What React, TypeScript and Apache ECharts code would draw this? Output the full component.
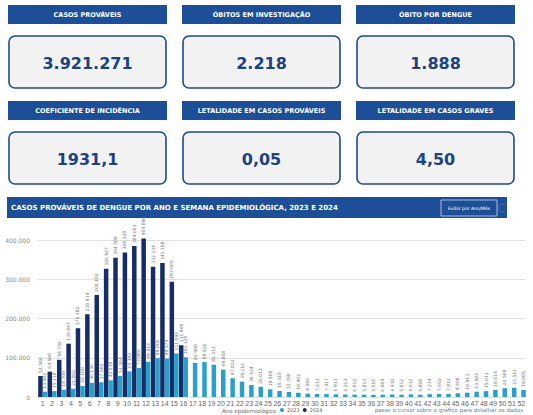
import React, { useEffect, useRef } from "react";
import * as echarts from "echarts";

const weeks = Array.from({ length: 52 }, (_, i) => String(i + 1));

const cases2024 = [
  53506, 64500, 94756, 135867, 175182, 210914, 260102, 326927, 354508, 368329,
  384603, 404098, 332134, 341108, 293605, 131960,
];

const cases2023 = [
  13582, 15118, 18700, 21002, 28100, 36136, 37500, 42518, 53504, 65142,
  73986, 89816, 99006, 98174, 111092, 101120, 86900, 88826, 82112, 69808,
  47812, 39116, 30534, 26012, 19508, 15310, 12700, 10902, 8506, 7612,
  7417, 6911, 6213, 6012, 5813, 5510, 6004, 6410, 5812, 6612,
  5808, 7214, 7602, 7812, 9508, 10913, 13502, 15011, 18014, 22508,
  23512, 18005,
];

const kpiTitles = [
  "CASOS PROVÁVEIS",
  "ÓBITOS EM INVESTIGAÇÃO",
  "ÓBITO POR DENGUE",
  "COEFICIENTE DE INCIDÊNCIA",
  "LETALIDADE EM CASOS PROVÁVEIS",
  "LETALIDADE EM CASOS GRAVES",
];
const kpiValues = ["3.921.271", "2.218", "1.888", "1931,1", "0,05", "4,50"];

const chartTitle =
  "CASOS PROVÁVEIS DE DENGUE POR ANO E SEMANA EPIDEMIOLÓGICA, 2023 E 2024";

const fmt = (v: number) =>
  Math.round(v)
    .toString()
    .replace(/\B(?=(\d{3})+(?!\d))/g, ".");

const HEADER = "#1d4f98";
const VALUE = "#1c4282";
const DARK = "#172d6a";
const LIGHT = "#2aa0c8";

export default function App() {
  const ref = useRef<HTMLDivElement>(null);
  useEffect(() => {
    document.body.style.margin = "0";
    const chart = echarts.init(ref.current!, undefined, { renderer: "svg" });

    const colX = [8, 182, 356];
    const colW = 159;
    const rowHeadY = [5, 101];
    const rowBoxY = [36, 132];
    const graphics: any[] = [];
    kpiTitles.forEach((t, i) => {
      const c = i % 3;
      const r = Math.floor(i / 3);
      graphics.push({
        type: "rect",
        shape: { x: colX[c], y: rowHeadY[r], width: colW, height: 19 },
        style: { fill: HEADER },
      });
      graphics.push({
        type: "text",
        x: colX[c] + colW / 2,
        y: rowHeadY[r] + 9.5,
        style: {
          text: t,
          fill: "#ffffff",
          font: "bold 6.5px 'DejaVu Sans'",
          align: "center",
          verticalAlign: "middle",
        },
      });
      graphics.push({
        type: "rect",
        shape: { x: colX[c] + 1, y: rowBoxY[r], width: colW - 2, height: 52, r: 6 },
        style: { fill: "#f2f2f3", stroke: "#1f4a8a", lineWidth: 1.6 },
      });
      graphics.push({
        type: "text",
        x: colX[c] + colW / 2,
        y: rowBoxY[r] + 27,
        style: {
          text: kpiValues[i],
          fill: VALUE,
          font: "bold 16px 'DejaVu Sans'",
          align: "center",
          verticalAlign: "middle",
        },
      });
    });

    graphics.push({
      type: "rect",
      shape: { x: 7, y: 197, width: 500, height: 21 },
      style: { fill: HEADER },
    });
    graphics.push({
      type: "text",
      x: 11,
      y: 207.5,
      style: {
        text: chartTitle,
        fill: "#ffffff",
        font: "bold 7px 'DejaVu Sans'",
        align: "left",
        verticalAlign: "middle",
      },
    });
    graphics.push({
      type: "rect",
      shape: { x: 441, y: 200, width: 56, height: 16 },
      style: { fill: HEADER, stroke: "#c9d6ea", lineWidth: 0.8 },
    });
    graphics.push({
      type: "text",
      x: 469,
      y: 208,
      style: {
        text: "Exibir por Ano/Mês",
        fill: "#ffffff",
        font: "4.5px 'DejaVu Sans'",
        align: "center",
        verticalAlign: "middle",
      },
    });
    graphics.push({
      type: "arc",
      shape: { cx: 502, cy: 208, r: 4, startAngle: 0.6, endAngle: 5.6 },
      style: { stroke: "#4f78b4", lineWidth: 0.8, fill: "none" },
    });
    graphics.push({
      type: "text",
      x: 222,
      y: 410.5,
      style: {
        text: "Ano epidemiológico",
        fill: "#666666",
        font: "5.5px 'DejaVu Sans'",
        align: "left",
        verticalAlign: "middle",
      },
    });
    graphics.push({
      type: "text",
      x: 523,
      y: 410,
      style: {
        text: "passe o cursor sobre o gráfico para detalhar os dados",
        fill: "#5b7fb3",
        font: "5.5px 'DejaVu Sans'",
        align: "right",
        verticalAlign: "middle",
      },
    });

    const label = {
      show: true,
      position: "top",
      rotate: 90,
      align: "left",
      verticalAlign: "middle",
      distance: 3,
      fontSize: 4.5,
      color: "#7a7a7a",
      fontFamily: "DejaVu Sans",
      formatter: (p: any) => (p.value == null ? "" : fmt(p.value)),
    };

    chart.setOption({
      animation: false,
      backgroundColor: "#ffffff",
      grid: { left: 38, right: 7, top: 240, bottom: 18, containLabel: false },
      legend: {
        data: ["2023", "2024"],
        left: 280,
        top: 407.5,
        icon: "circle",
        itemWidth: 4,
        itemHeight: 4,
        itemGap: 3,
        padding: 0,
        textStyle: { fontSize: 5, color: "#666666", fontFamily: "DejaVu Sans", padding: [0, 0, 0, -2] },
      },
      xAxis: {
        type: "category",
        data: weeks,
        axisTick: { show: false },
        axisLine: { show: false },
        axisLabel: {
          interval: 0,
          fontSize: 7,
          color: "#666666",
          margin: 3,
          fontFamily: "Liberation Sans",
        },
      },
      yAxis: {
        type: "value",
        min: 0,
        max: 400000,
        interval: 100000,
        axisLabel: {
          formatter: (v: number) => fmt(v),
          fontSize: 6,
          color: "#888888",
          margin: 8,
          fontFamily: "DejaVu Sans",
        },
        splitLine: { lineStyle: { type: "dotted", color: "#b5b5b5", width: 0.8 } },
      },
      series: [
        {
          name: "2024",
          type: "bar",
          data: weeks.map((_, i) => (i < cases2024.length ? cases2024[i] : null)),
          itemStyle: { color: DARK },
          barGap: "0%",
          barCategoryGap: "4%",
          clip: false,
          label,
        },
        {
          name: "2023",
          type: "bar",
          data: cases2023,
          itemStyle: { color: LIGHT },
          barGap: "0%",
          barCategoryGap: "4%",
          clip: false,
          label,
        },
      ],
      graphic: graphics,
    });
    return () => chart.dispose();
  }, []);
  return <div ref={ref} style={{ width: 533, height: 415 }} />;
}
